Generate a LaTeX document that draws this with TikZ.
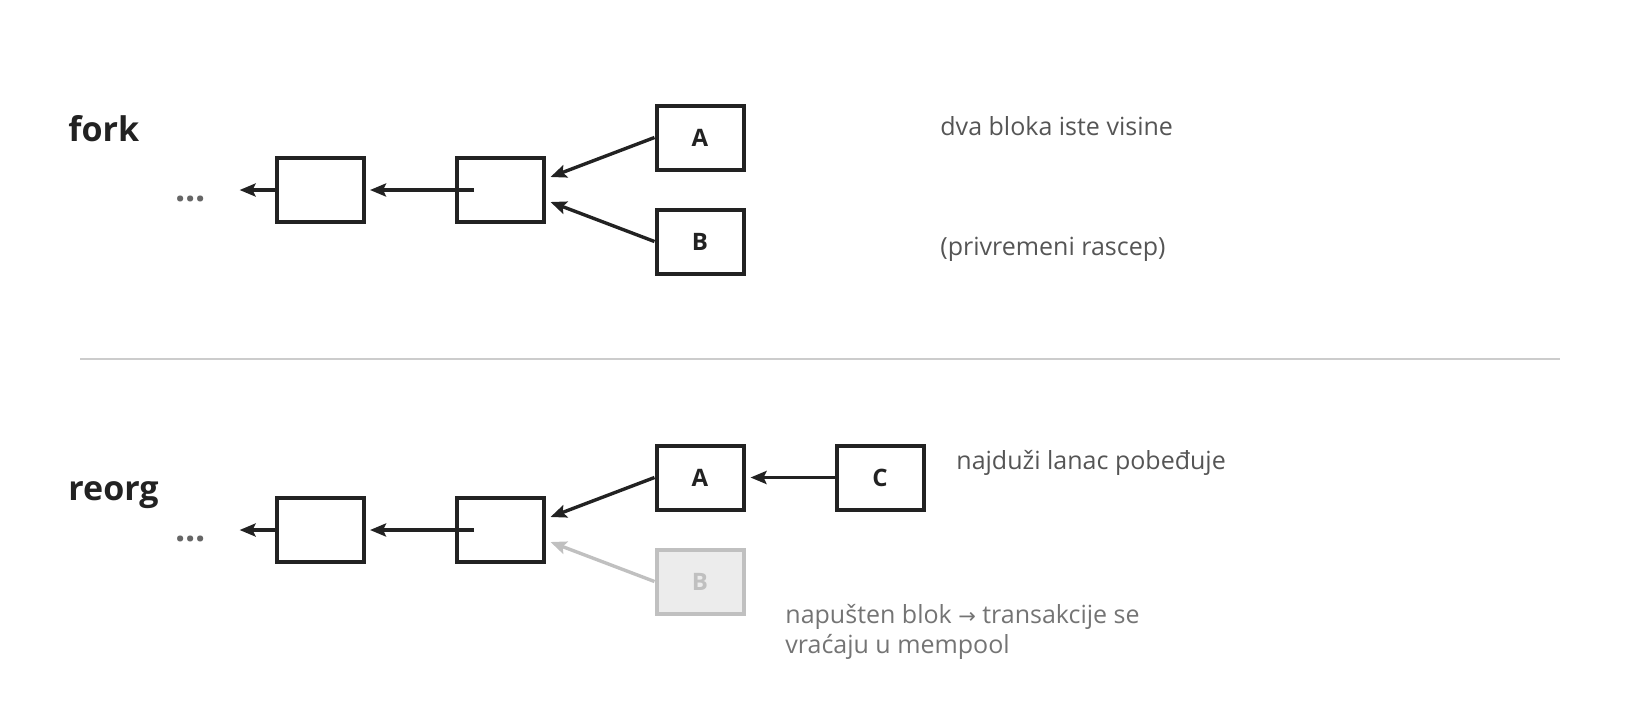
\documentclass[tikz,border=0pt]{standalone}
\usepackage{fontspec}
\setmainfont{Open Sans}
\newfontfamily\arrowfont{DejaVu Sans}
\usetikzlibrary{arrows.meta,calc}

\definecolor{ink}{HTML}{222222}
\definecolor{note}{HTML}{555555}
\definecolor{muted}{HTML}{747474}
\definecolor{faded}{HTML}{C0C0C0}
\definecolor{fadedfill}{HTML}{ECECEC}
\definecolor{rule}{HTML}{CCCCCC}

\begin{document}
\begin{tikzpicture}[x=0.5pt,y=-0.5pt,
        block/.style={rectangle,draw=ink,fill=white,line width=2pt,minimum width=43.5pt,minimum height=32pt,inner sep=0pt,font=\bfseries\fontsize{12}{14}\selectfont,text=ink},
        orphan/.style={block,draw=faded,fill=fadedfill,text=faded},
        title/.style={anchor=base west,inner sep=0pt,font=\bfseries\fontsize{17}{20}\selectfont,text=ink},
        remark/.style={anchor=base west,inner sep=0pt,font=\fontsize{12.5}{15}\selectfont,text=note,align=left},
        more/.style={anchor=base west,inner sep=0pt,font=\bfseries\fontsize{18}{20}\selectfont,text=note!90},
        link/.style={draw=ink,line width=1.7pt,-{Stealth[length=8pt,width=6.5pt,inset=1.5pt]}},
        deadlink/.style={link,draw=faded},
      ]
      \useasboundingbox (0,0) rectangle (1640,720);
      % fork
      \node[title] at (68,141) (Labelfork) {fork};
      \node[more] at (175,201) (fdots) {...};
      \node[block] at (320,190) (fb1) {};
      \node[block] at (500,190) (fb2) {};
      \node[block] at (700,137.5) (fA) {A};
      \node[block] at (700,241.5) (fB) {B};
%
      \node[remark] at (940,135) (fnote) {dva bloka iste visine};
      \node[remark] at (940,255) (fnote2) {(privremeni rascep)};
%
      \path[link] (fb1.west) -- ($(fb1.west -| fdots.east)+(33,0)$);
      \path[link] ([xshift=9.75pt]fb2.west) -- ([xshift=2.25pt]fb1.east);
      \path[link] (fA.west) -- ($(fb2.east)+(5,-13)$);
      \path[link] (fB.west) -- ($(fb2.east)+(5,12)$);
%
      \draw[rule,line width=1pt] (80,359) -- (1560,359);
%
      % reorg
      \node[title] at (68,500) (Labelreorg) {reorg};
      \node[more] at (175,541) (rdots) {...};
      \node[block] at (320,530) (rb1) {};
      \node[block] at (500,530) (rb2) {};
      \node[block] at (700,477.5) (rA) {A};
      \node[orphan] at (700,581.5) (rB) {B};
      \node[block] at (880,477.5) (rC) {C};
%
      \node[remark] at (956,469) (rnote) {najduži lanac pobeđuje};
      \node[remark,text=muted] at (785,653) (rnote2) {napušten blok {\arrowfont\fontsize{10.5}{15}\selectfont →} transakcije se\\vraćaju u mempool};
%
      \path[link] (rb1.west) -- ($(rb1.west -| rdots.east)+(33,0)$);
      \path[link] ([xshift=9.75pt]rb2.west) -- ([xshift=2.25pt]rb1.east);
      \path[link] (rA.west) -- ($(rb2.east)+(5,-13)$);
      \path[deadlink] (rB.west) -- ($(rb2.east)+(5,12)$);
      \path[link] (rC.west) -- ($(rA.east)+(5,0)$);
    \end{tikzpicture}
\end{document}
